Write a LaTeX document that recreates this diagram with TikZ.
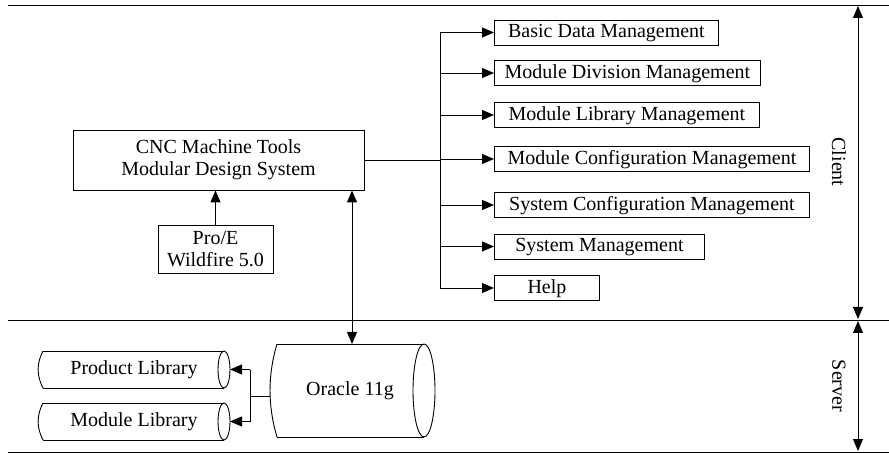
\documentclass[tikz,border=0pt]{standalone}
\usepackage{fontspec}
\setmainfont{Liberation Serif}
\usetikzlibrary{arrows.meta}
\begin{document}
\begin{tikzpicture}[x=1pt,y=-1pt,line width=0.9pt,
  every node/.style={font=\fontsize{20}{22}\selectfont},
  box/.style={draw,rectangle,inner sep=0pt,align=center},
  mbox/.style={box,anchor=west,minimum height=25pt,text height=13.5pt,text depth=3pt},
  arr/.style={-{Triangle[length=12pt,width=10pt]}},
  darr/.style={{Triangle[length=12pt,width=10pt]}-{Triangle[length=12pt,width=10pt]}}]
\useasboundingbox (0,0) rectangle (889,454);
% frame lines
\coordinate (l1) at (8,5);   \coordinate (r1) at (889,5);
\coordinate (l2) at (8,320); \coordinate (r2) at (889,320);
\coordinate (l3) at (8,452); \coordinate (r3) at (889,452);
\draw (l1) -- (r1);
\draw (l2) -- (r2);
\draw (l3) -- (r3);
% side arrows
\coordinate (ct) at (858,6);   \coordinate (cb) at (858,319);
\coordinate (st) at (858,321); \coordinate (sb) at (858,451);
\draw[darr] (cb) -- (ct);
\draw[darr] (sb) -- (st);
\node[rotate=-90] (client) at (839,162) {Client};
\node[rotate=-90] (server) at (839,386) {Server};
% main boxes
\node[box,minimum width=291pt,minimum height=60pt] (cnc) at (218.5,160) {CNC Machine Tools\\Modular Design System};
\node[box,minimum width=115pt,minimum height=48pt] (pro) at (215.5,249) {Pro/E\\Wildfire 5.0};
\draw[arr] (pro.north) -- (pro.north |- cnc.south);
% module boxes
\node[mbox,minimum width=224pt] (basic) at (494,32.5) {Basic Data Management};
\node[mbox,minimum width=266pt] (div) at (494,73) {Module Division Management};
\node[mbox,minimum width=265pt] (lib) at (494,115) {Module Library Management};
\node[mbox,minimum width=315pt] (conf) at (494,159) {Module Configuration Management};
\node[mbox,minimum width=315pt] (sysconf) at (494,205) {System Configuration Management};
\node[mbox,minimum width=210pt] (sysm) at (494,246.5) {System Management};
\node[mbox,minimum width=105pt] (help) at (494,288) {Help};
\coordinate (bus) at (440,0);
\draw (bus |- basic.west) -- (bus |- help.west);
\draw (cnc.east) -- (cnc.east -| bus);
\foreach \n in {basic,div,lib,conf,sysconf,sysm,help}
  \draw[arr] (bus |- \n.west) -- (\n.west);
% Oracle cylinder
\draw (277,344) -- (424,344) (277,437) -- (424,437);
\draw (424,390.5) ellipse [x radius=11pt,y radius=46.5pt];
\draw (277,344) .. controls (267.7,375) and (267.7,406) .. (277,437);
\node (oracle) at (350,390.5) {Oracle 11g};
\coordinate (oraN) at (352,344);
\coordinate (oraW) at (270,396);
\draw[darr] (oraN |- cnc.south) -- (oraN);
% library cylinders
\foreach \yc/\nm/\txt in {369.5/prod/Product Library,421.5/modl/Module Library}{
  \draw (43,\yc-18.5) -- (224,\yc-18.5) (43,\yc+18.5) -- (224,\yc+18.5);
  \draw (224,\yc) ellipse [x radius=6pt,y radius=18.5pt];
  \draw (43,\yc-18.5) .. controls (36.5,\yc-6) and (36.5,\yc+6) .. (43,\yc+18.5);
  \node (\nm) at (134,\yc) {\txt};
  \coordinate (\nm E) at (230,\yc);
}
\coordinate (jn) at (250,0);
\draw (oraW) -- (oraW -| jn);
\draw (jn |- prodE) -- (jn |- modlE);
\draw[arr] (jn |- prodE) -- (prodE);
\draw[arr] (jn |- modlE) -- (modlE);
\end{tikzpicture}
\end{document}
